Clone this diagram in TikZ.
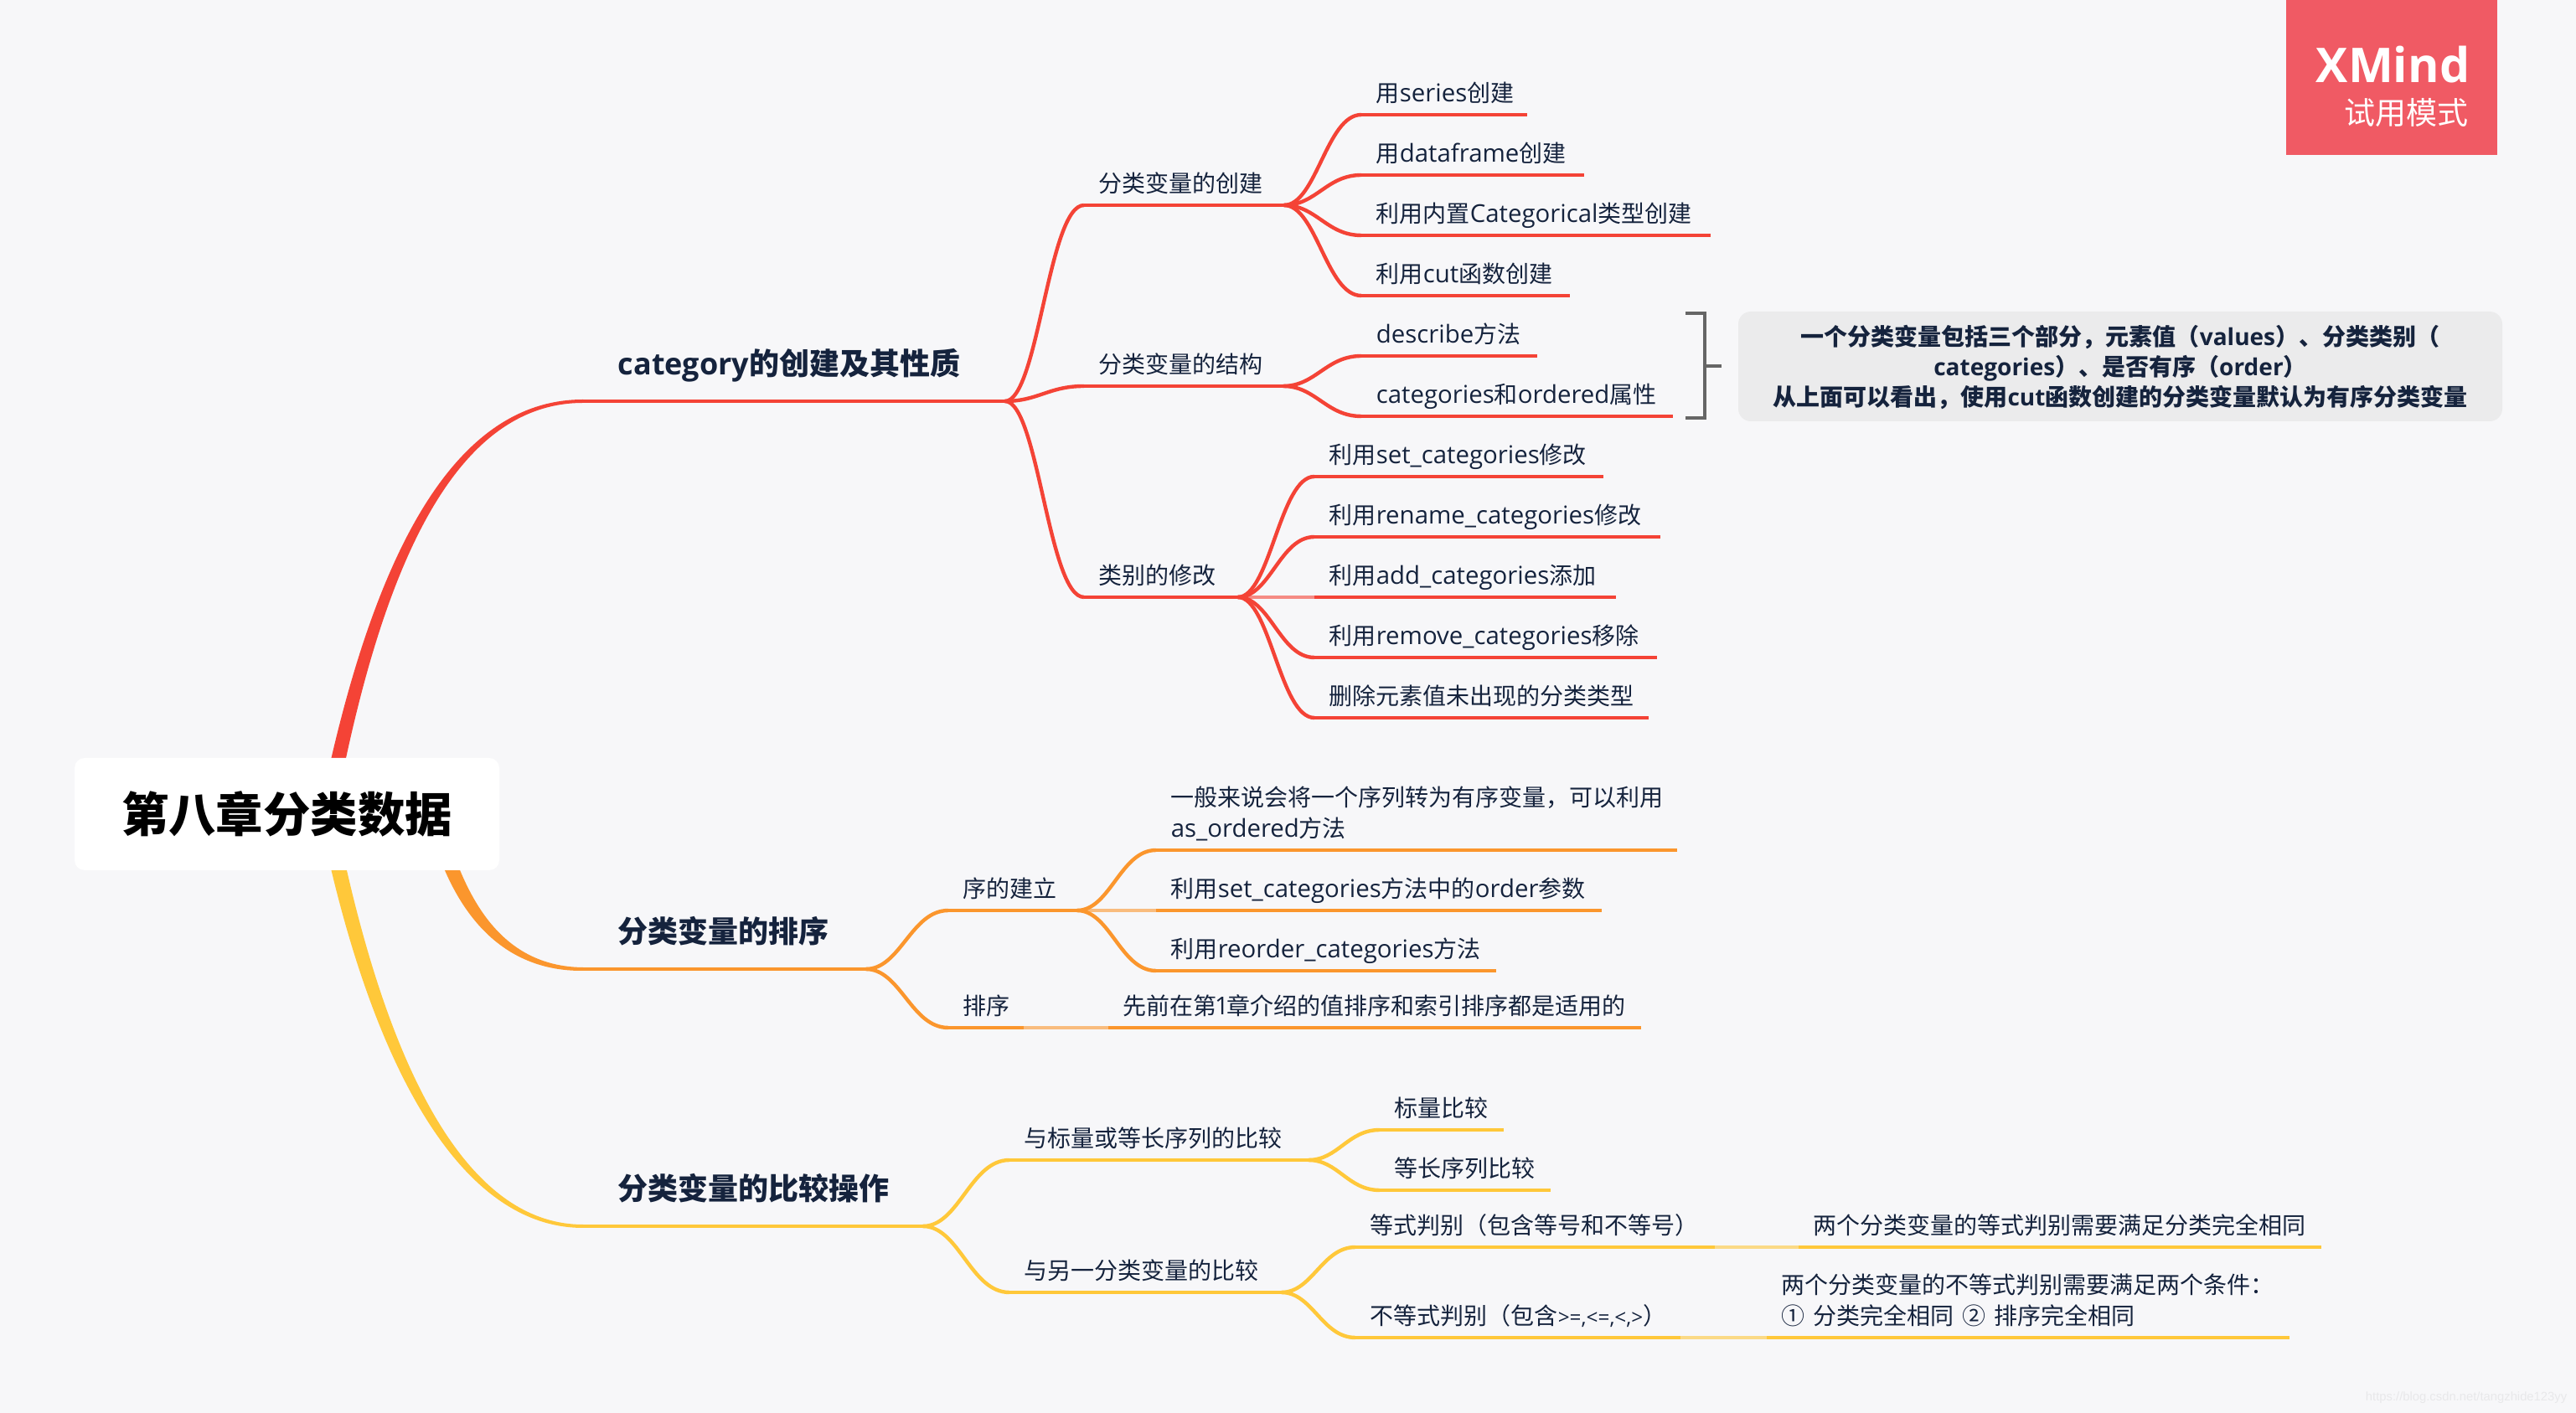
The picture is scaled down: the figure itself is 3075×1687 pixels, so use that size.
\documentclass[tikz,border=0pt]{standalone}
\usepackage{fontspec}
\usetikzlibrary{calc,backgrounds}
\setmainfont{Open Sans}[Scale=1.05, BoldFeatures={Scale=1}]
\newfontfamily\cjk{Noto Sans CJK SC}
\newfontfamily\urlfont{Liberation Sans}
\newcommand{\zh}[1]{{\cjk #1}}
\definecolor{paper}{HTML}{F7F7F9}
\definecolor{ink}{HTML}{15233D}
\definecolor{cred}{HTML}{F44336}
\definecolor{corange}{HTML}{FB962D}
\definecolor{cyellow}{HTML}{FFC83A}
\definecolor{trial}{HTML}{F05A64}
\definecolor{notebg}{HTML}{EBEBEC}
\tikzset{
  topic/.style={anchor=south west, inner xsep=4.25pt, inner ysep=1.55pt, align=left, text=ink,
    font=\fontsize{7}{9.2}\selectfont, execute at begin node={\hyphenpenalty=10000 },
    execute at end node={\rule[-2.2pt]{0pt}{2.2pt}}},
  maintopic/.style={anchor=south west, inner xsep=10.25pt, inner ysep=7.6pt, text depth=0pt, align=left, text=ink,
    font=\fontsize{9}{11}\selectfont\bfseries},
  rule/.style={line width=1.15pt},
  link/.style={line width=1.1pt},
  flat/.style={line width=.8pt, opacity=.6},
}
\begin{document}
\begin{tikzpicture}[x=0.25pt, y=-0.25pt]
    \useasboundingbox (0,0) rectangle (3075,1687);
    %main topics
    \foreach \n/\c/\a/\b/\y/\t [evaluate=\b as \w using (\b-\a)*0.25-20.5] in {
        m1/cred/696/1198/479/{category\zh{的创建及其性质}},
        m2/corange/696/1032/1157/{\zh{分类变量的排序}},
        m3/cyellow/696/1100/1464/{\zh{分类变量的比较操作}}} {
      \node [maintopic, text width=\w pt] (\n) at (\a,\y) {\t};
      \draw [rule, \c] (\n.south west) -- (\n.south east);
    }
    %root and its tapered branches
    \node [fill=white, rounded corners=3pt, minimum width=126.75pt, minimum height=33.5pt, inner sep=0pt,
      font=\fontsize{14.1}{16}\selectfont\bfseries] (root) at (342.5,972) {\zh{第八章分类数据}};
    \begin{pgfonlayer}{background}
    \fill[paper] (0,0) rectangle (3075,1687);
    \fill[cred] ($(root.center)+(33,28)$) .. controls (433,698) and (527,477) .. ($(m1.south west)+(0,-2)$)
      -- ($(m1.south west)+(0,2)$) .. controls (533,481) and (447,702) .. ($(root.center)+(52,28)$) -- cycle;
    \fill[corange] ($(root.center)+(170,13)$) .. controls (536,1074) and (588,1160) .. ($(m2.south west)+(0,2)$)
      -- ($(m2.south west)+(0,-2)$) .. controls (594,1154) and (554,1066) .. ($(root.center)+(188,13)$) -- cycle;
    \fill[cyellow] ($(root.center)+(33,-27)$) .. controls (431,1240) and (537,1466) .. ($(m3.south west)+(0,2)$)
      -- ($(m3.south west)+(0,-2)$) .. controls (543,1462) and (449,1238) .. ($(root.center)+(52,-27)$) -- cycle;
    \end{pgfonlayer}
    %sub topics
    \foreach \n/\c/\a/\b/\y/\t [evaluate=\b as \w using (\b-\a)*0.25-8.5] in {
        c1/cred/1294/1531/245/{\zh{分类变量的创建}},
        c2/cred/1294/1530/461/{\zh{分类变量的结构}},
        c3/cred/1294/1476/713/{\zh{类别的修改}},
        c1-1/cred/1625/1821/137/{\zh{用}series\zh{创建}},
        c1-2/cred/1625/1889/209/{\zh{用}dataframe\zh{创建}},
        c1-3/cred/1625/2040/281/{\zh{利用内置}Categorical\zh{类型创建}},
        c1-4/cred/1625/1872/353/{\zh{利用}cut\zh{函数创建}},
        c2-1/cred/1625/1833/425/{describe\zh{方法}},
        c2-2/cred/1625/1995/497/{categories\zh{和}ordered\zh{属性}},
        c3-1/cred/1569/1912/569/{\zh{利用}set\_categories\zh{修改}},
        c3-2/cred/1569/1980/641/{\zh{利用}rename\_categories\zh{修改}},
        c3-3/cred/1569/1927/713/{\zh{利用}add\_categories\zh{添加}},
        c3-4/cred/1569/1976/785/{\zh{利用}remove\_categories\zh{移除}},
        c3-5/cred/1569/1966/857/{\zh{删除元素值未出现的分类类型}},
        o1/corange/1132/1284/1087/{\zh{序的建立}},
        o2/corange/1132/1220/1227/{\zh{排序}},
        o1-1/corange/1380/2000/1015/{\zh{一般来说会将一个序列转为有序变量，可以利用}\\as\_ordered\zh{方法}},
        o1-2/corange/1380/1910/1087/{\zh{利用}set\_categories\zh{方法中的}order\zh{参数}},
        o1-3/corange/1380/1784/1159/{\zh{利用}reorder\_categories\zh{方法}},
        o2-1/corange/1323/1957/1227/{\zh{先前在第}\hspace{-.7pt}1\hspace{-.7pt}\zh{章介绍的值排序和索引排序都是适用的}},
        y1/cyellow/1205/1560/1385/{\zh{与标量或等长序列的比较}},
        y2/cyellow/1205/1528/1543/{\zh{与另一分类变量的比较}},
        y1-1/cyellow/1647/1793/1349/{\zh{标量比较}},
        y1-2/cyellow/1647/1849/1421/{\zh{等长序列比较}},
        y2-1/cyellow/1618/2045/1489/{\zh{等式判别（包含等号和不等号）}},
        y2-2/cyellow/1618/2004/1597/{\zh{不等式判别（包含}{\fontsize{5.8}{9}\selectfont >=,<=,<,>}\zh{）}},
        y2-1-1/cyellow/2147/2769/1489/{\zh{两个分类变量的等式判别需要满足分类完全相同}},
        y2-2-1/cyellow/2109/2731/1597/{\zh{两个分类变量的不等式判别需要满足两个条件：}\\\zh{① 分类完全相同 ② 排序完全相同}}} {
      \node [topic, text width=\w pt] (\n) at (\a,\y) {\t};
      \draw [rule, \c] (\n.south west) -- (\n.south east);
    }
    %curved links
    \foreach \c/\a/\b in {
        cred/m1/c1, cred/m1/c2, cred/m1/c3,
        cred/c1/c1-1, cred/c1/c1-2, cred/c1/c1-3, cred/c1/c1-4,
        cred/c2/c2-1, cred/c2/c2-2,
        cred/c3/c3-1, cred/c3/c3-2, cred/c3/c3-4, cred/c3/c3-5,
        corange/m2/o1, corange/m2/o2,
        corange/o1/o1-1, corange/o1/o1-3,
        cyellow/m3/y1, cyellow/m3/y2,
        cyellow/y1/y1-1, cyellow/y1/y1-2,
        cyellow/y2/y2-1, cyellow/y2/y2-2}
      \draw [link, \c] let \p1=(\a.south east), \p2=(\b.south west) in
        (\p1) .. controls ({0.58*\x1+0.42*\x2},\y1) and ({0.45*\x1+0.55*\x2},\y2) .. (\p2);
    %straight links
    \foreach \c/\a/\b in {cred/c3/c3-3, corange/o1/o1-2, corange/o2/o2-1, cyellow/y2-1/y2-1-1, cyellow/y2-2/y2-2-1}
      \draw [flat, \c] (\a.south east) -- (\b.south west);
    %summary note
    \node [fill=notebg, rounded corners=3.75pt, minimum width=228pt, minimum height=32.75pt, inner sep=0pt,
      align=center, text=ink, font=\fontsize{7}{9}\selectfont\bfseries] (note) at (2531,437.5)
      {\rule{0pt}{6.5pt}\zh{一个分类变量包括三个部分，元素值（}values\zh{）、分类类别（}\\categories\zh{）、是否有序（}order\zh{）}\\\zh{从上面可以看出，使用}cut\zh{函数创建的分类变量默认为有序分类变量}};
    \draw [line width=.9pt, color=black!60] (2012,374) -- (2035,374) -- (2035,499) -- (2012,499);
    \coordinate (bracket-mid) at (2035,437);
    \coordinate (bracket-end) at (2055,437);
    \draw [line width=.9pt, color=black!60] (bracket-mid) -- (bracket-end);
    %trial badge
    \node [fill=trial, minimum width=63pt, minimum height=46.25pt, inner sep=0pt] (badge) at (2855,92.5) {};
    \node [anchor=east, inner sep=0pt, text=white, font=\fontsize{14.3}{17}\selectfont\bfseries] (badge-name) at (2949,77) {XMind};
    \node [anchor=east, inner sep=0pt, text=white, font=\fontsize{9.25}{11}\selectfont] (badge-mode) at (2947,135) {\zh{试用模式}};
    %watermark
    \node [anchor=east, inner sep=0pt, text=black!6!paper, font=\urlfont\fontsize{3.7}{4}\selectfont] (mark) at (3065,1669) {https://blog.csdn.net/tangzhide123yy};
\end{tikzpicture}
\end{document}
